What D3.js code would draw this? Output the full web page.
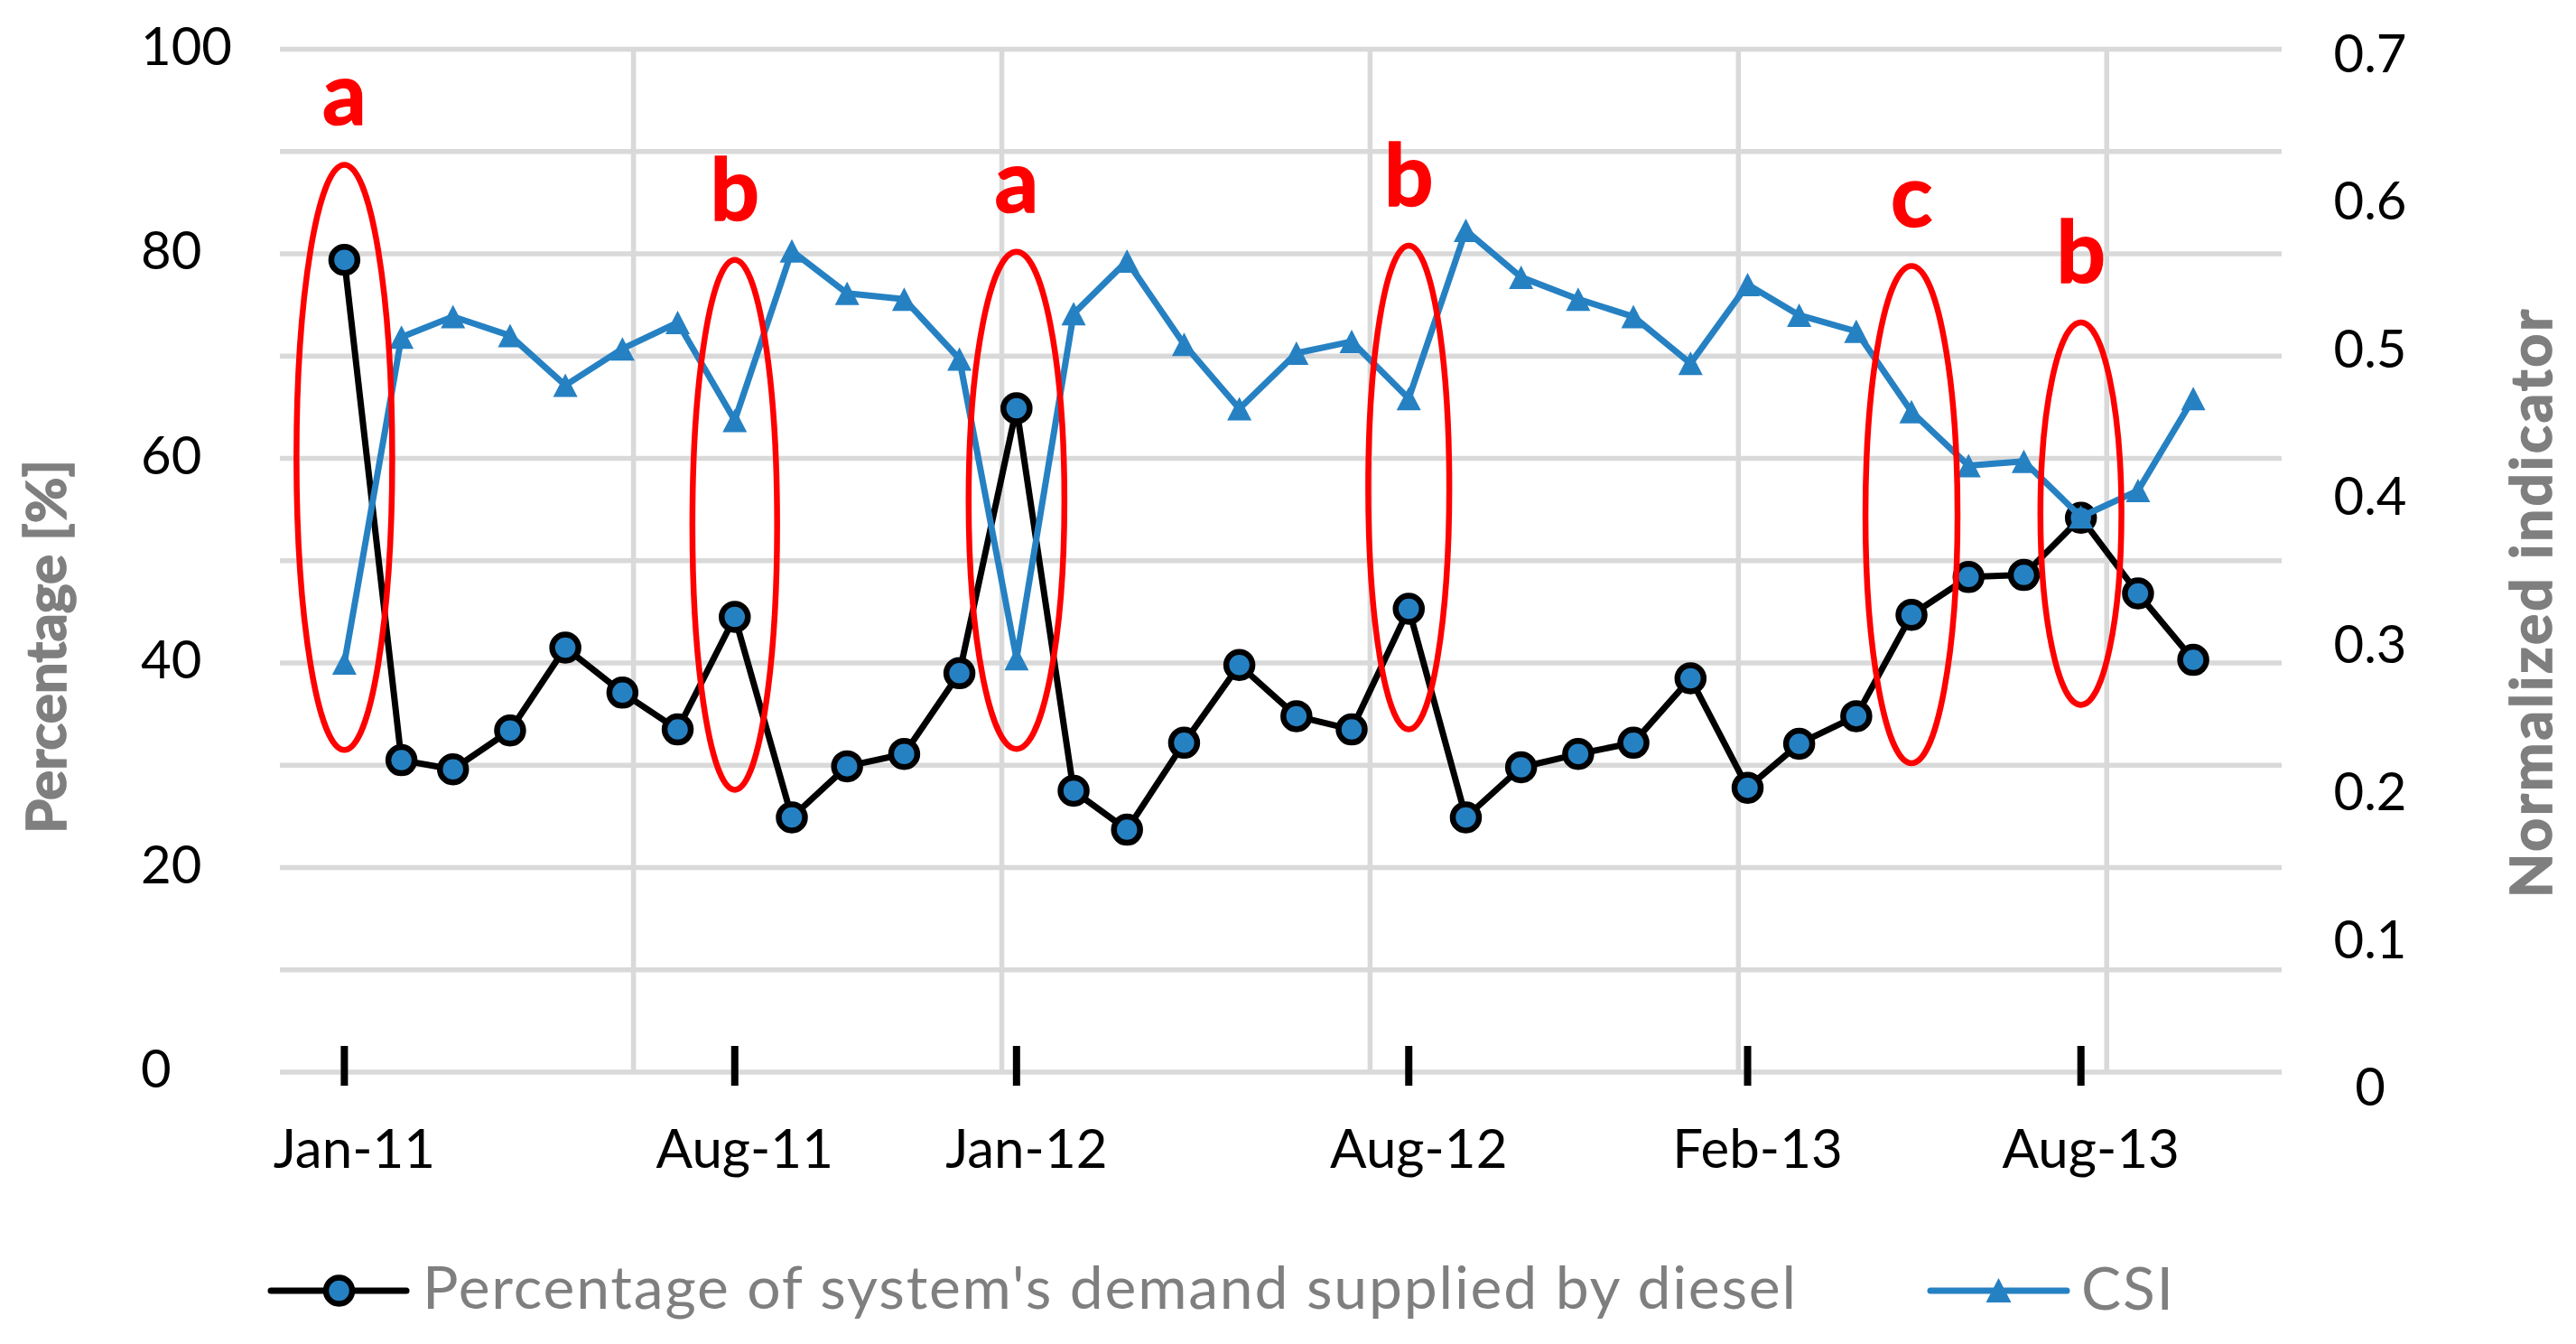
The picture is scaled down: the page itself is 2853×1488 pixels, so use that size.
<!DOCTYPE html>
<html>
<head>
<meta charset="utf-8">
<title>Diesel share and CSI</title>
<script src="https://cdn.jsdelivr.net/npm/d3@7"></script>
<style>
  html, body { margin: 0; padding: 0; background: #fff; }
  svg { display: block; font-family: Lato, "Open Sans", sans-serif; }
</style>
</head>
<body>
<svg id="chart" width="2853" height="1488"></svg>
<script>
// monthly values, Jan-11 .. Oct-13
const months = ["2011-01","2011-02","2011-03","2011-04","2011-05","2011-06","2011-07","2011-08","2011-09","2011-10","2011-11","2011-12",
                "2012-01","2012-02","2012-03","2012-04","2012-05","2012-06","2012-07","2012-08","2012-09","2012-10","2012-11","2012-12",
                "2013-01","2013-02","2013-03","2013-04","2013-05","2013-06","2013-07","2013-08","2013-09","2013-10"];
const dieselPct = [79.4, 30.5, 29.6, 33.4, 41.5, 37.1, 33.5, 44.5, 24.9, 29.9, 31.1, 39.0,
                   64.9, 27.5, 23.7, 32.2, 39.8, 34.8, 33.5, 45.3, 24.9, 29.8, 31.1, 32.2,
                   38.5, 27.8, 32.1, 34.8, 44.7, 48.4, 48.6, 54.2, 46.8, 40.3];
const csi = [0.280, 0.503, 0.517, 0.504, 0.470, 0.495, 0.513, 0.446, 0.562, 0.533, 0.529, 0.488,
             0.283, 0.519, 0.555, 0.498, 0.454, 0.492, 0.500, 0.461, 0.576, 0.544, 0.529, 0.517,
             0.485, 0.539, 0.518, 0.507, 0.452, 0.415, 0.418, 0.380, 0.398, 0.461];

const tickMonths = ["2011-01","2011-08","2012-01","2012-08","2013-02","2013-08"];
const tickLabels = ["Jan-11","Aug-11","Jan-12","Aug-12","Feb-13","Aug-13"];
const leftTicks = [0, 20, 40, 60, 80, 100];
const rightTicks = [0, 0.1, 0.2, 0.3, 0.4, 0.5, 0.6, 0.7];
const rightTickLabels = ["0", "0.1", "0.2", "0.3", "0.4", "0.5", "0.6", "0.7"];

// red marks: letter, month circled, vertical extent in %, half width in days
const marks = [
  {label: "a", month: "2011-01", top: 88.7, bottom: 31.5, halfDays: 26},
  {label: "b", month: "2011-08", top: 79.4, bottom: 27.6, halfDays: 23},
  {label: "a", month: "2012-01", top: 80.2, bottom: 31.6, halfDays: 26},
  {label: "b", month: "2012-08", top: 80.8, bottom: 33.5, halfDays: 22},
  {label: "c", month: "2013-05", top: 78.8, bottom: 30.2, halfDays: 25},
  {label: "b", month: "2013-08", top: 73.3, bottom: 35.9, halfDays: 22}
];

const parseMonth = d3.timeParse("%Y-%m");
const blue = "#2681c3", grid = "#d9d9d9", grey = "#7f7f7f";

const svg = d3.select("#chart");
const plotLeft = 310, plotRight = 2527, plotTop = 54.5, plotBottom = 1187;

const x = d3.scaleTime()
    .domain([new Date(2010, 10, 27), new Date(2013, 10, 18)])
    .range([plotLeft, plotRight]);
const yL = d3.scaleLinear().domain([0, 100]).range([plotBottom, plotTop]);
const yR = d3.scaleLinear().domain([0, 0.7]).range([plotBottom, plotTop]);
const yRLabel = d3.scaleLinear().domain([0, 0.7]).range([1224, 80]);

// gridlines
svg.append("g").selectAll("line")
  .data(d3.range(0, 101, 10))
  .join("line")
    .attr("x1", plotLeft).attr("x2", plotRight)
    .attr("y1", d => yL(d)).attr("y2", d => yL(d))
    .attr("stroke", grid).attr("stroke-width", 5.5);

const gridDates = d3.range(5).map(k => d3.timeDay.offset(new Date(2011, 5, 7), 200 * k));
svg.append("g").selectAll("line")
  .data(gridDates)
  .join("line")
    .attr("x1", d => x(d)).attr("x2", d => x(d))
    .attr("y1", plotTop).attr("y2", plotBottom)
    .attr("stroke", grid).attr("stroke-width", 5.5);

// axis labels
svg.append("g").selectAll("text")
  .data(leftTicks)
  .join("text")
    .attr("x", 156).attr("y", d => yL(d) + 17)
    .attr("font-size", 58).attr("fill", "#000")
    .text(d => d);

svg.append("g").selectAll("text")
  .data(rightTicks)
  .join("text")
    .attr("x", 2625).attr("y", d => yRLabel(d))
    .attr("text-anchor", "middle")
    .attr("font-size", 58).attr("fill", "#000")
    .text((d, i) => rightTickLabels[i]);

const ticks = svg.append("g");
ticks.selectAll("line")
  .data(tickMonths)
  .join("line")
    .attr("x1", d => x(parseMonth(d))).attr("x2", d => x(parseMonth(d)))
    .attr("y1", 1158).attr("y2", 1202)
    .attr("stroke", "#000").attr("stroke-width", 8);
ticks.selectAll("text")
  .data(tickMonths)
  .join("text")
    .attr("x", d => x(parseMonth(d)) + 11).attr("y", 1293)
    .attr("text-anchor", "middle")
    .attr("font-size", 60).attr("fill", "#000")
    .text((d, i) => tickLabels[i]);

svg.append("text")
  .attr("transform", "translate(73,716) rotate(-90)")
  .attr("text-anchor", "middle")
  .attr("font-size", 62).attr("font-weight", "bold")
  .attr("fill", grey).attr("stroke", grey).attr("stroke-width", 1.6)
  .text("Percentage [%]");
svg.append("text")
  .attr("transform", "translate(2826,667) rotate(-90)")
  .attr("text-anchor", "middle")
  .attr("font-size", 64).attr("font-weight", "bold").attr("letter-spacing", 3)
  .attr("fill", grey).attr("stroke", grey).attr("stroke-width", 1.6)
  .text("Normalized indicator");

// series
const dieselData = months.map((m, i) => ({date: parseMonth(m), v: dieselPct[i]}));
const csiData = months.map((m, i) => ({date: parseMonth(m), v: csi[i]}));

const tri = (w, h) => `M0,${-h / 2}L${w / 2},${h / 2}L${-w / 2},${h / 2}Z`;

svg.append("path")
  .datum(dieselData)
  .attr("fill", "none").attr("stroke", "#000").attr("stroke-width", 7)
  .attr("stroke-linejoin", "round")
  .attr("d", d3.line().x(d => x(d.date)).y(d => yL(d.v)));
svg.append("g").selectAll("circle")
  .data(dieselData)
  .join("circle")
    .attr("cx", d => x(d.date)).attr("cy", d => yL(d.v)).attr("r", 14.5)
    .attr("fill", blue).attr("stroke", "#000").attr("stroke-width", 6.5);

svg.append("path")
  .datum(csiData)
  .attr("fill", "none").attr("stroke", blue).attr("stroke-width", 7)
  .attr("stroke-linejoin", "round")
  .attr("d", d3.line().x(d => x(d.date)).y(d => yR(d.v)));
svg.append("g").selectAll("path")
  .data(csiData)
  .join("path")
    .attr("transform", d => `translate(${x(d.date)},${yR(d.v)})`)
    .attr("d", tri(27, 26))
    .attr("fill", blue);

// red annotations
const ann = svg.append("g");
marks.forEach(m => {
  const d = parseMonth(m.month);
  const cx = x(d);
  const rx = x(d3.timeDay.offset(d, m.halfDays)) - cx;
  ann.append("ellipse")
    .attr("cx", cx).attr("cy", (yL(m.top) + yL(m.bottom)) / 2)
    .attr("rx", rx).attr("ry", (yL(m.bottom) - yL(m.top)) / 2)
    .attr("fill", "none").attr("stroke", "#ff0000").attr("stroke-width", 6.5);
  ann.append("text")
    .attr("x", cx).attr("y", yL(m.top) - 44)
    .attr("text-anchor", "middle")
    .attr("font-size", 96).attr("font-weight", "bold")
    .attr("fill", "#ff0000").attr("stroke", "#ff0000").attr("stroke-width", 1.5)
    .text(m.label);
});

// legend
const lg = svg.append("g");
lg.append("line").attr("x1", 300).attr("x2", 450).attr("y1", 1429).attr("y2", 1429)
  .attr("stroke", "#000").attr("stroke-width", 7).attr("stroke-linecap", "round");
lg.append("circle").attr("cx", 375.5).attr("cy", 1429).attr("r", 14.5)
  .attr("fill", blue).attr("stroke", "#000").attr("stroke-width", 6.5);
lg.append("text").attr("x", 468).attr("y", 1449)
  .attr("font-size", 66).attr("letter-spacing", 1.8).attr("fill", grey)
  .text("Percentage of system's demand supplied by diesel");
lg.append("line").attr("x1", 2138).attr("x2", 2289).attr("y1", 1429).attr("y2", 1429)
  .attr("stroke", blue).attr("stroke-width", 7).attr("stroke-linecap", "round");
lg.append("path").attr("transform", "translate(2213.5,1428.5)").attr("d", tri(28, 27)).attr("fill", blue);
lg.append("text").attr("x", 2305).attr("y", 1450)
  .attr("font-size", 66).attr("letter-spacing", 1.8).attr("fill", grey)
  .text("CSI");
</script>
</body>
</html>
